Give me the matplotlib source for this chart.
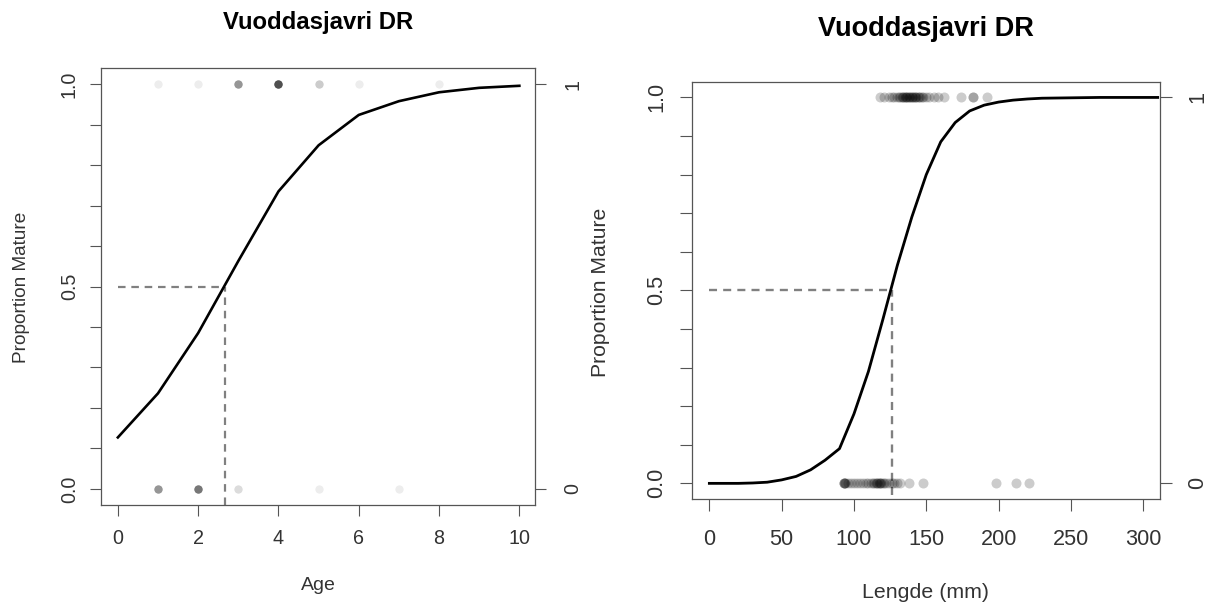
import matplotlib
matplotlib.use("Agg")
import matplotlib.pyplot as plt
import numpy as np

plt.rcParams['font.family'] = ['Liberation Sans', 'DejaVu Sans']

W, H = 1212, 611
title_text = "Vuoddasjavri DR"
ylabel_text = "Proportion Mature"

# ---------------- Left panel: Age ----------------
age_curve_x = [0, 1, 2, 3, 4, 5, 6, 7, 8, 9, 10]
age_curve_p = [0.127, 0.236, 0.385, 0.563, 0.735, 0.849, 0.924, 0.958, 0.980, 0.991, 0.996]
age_a50 = 2.68
age_mature_x = [1, 2, 3, 4, 5, 6, 8]
age_mature_n = [1, 1, 7, 15, 3, 1, 1]
age_immature_x = [1, 2, 3, 5, 7]
age_immature_n = [7, 10, 2, 1, 1]
age_xticks = [0, 2, 4, 6, 8, 10]
age_xlabel = "Age"

# ---------------- Right panel: Length ----------------
len_curve_x = [0, 10, 20, 30, 40, 50, 60, 70, 80, 90, 100, 110, 120, 130, 140,
               150, 160, 170, 180, 190, 200, 210, 220, 230, 250, 270, 310]
len_curve_p = [0.000, 0.000, 0.000, 0.001, 0.003, 0.009, 0.018, 0.035, 0.060, 0.090,
               0.180, 0.290, 0.425, 0.565, 0.690, 0.800, 0.885, 0.935, 0.965, 0.980,
               0.988, 0.993, 0.996, 0.998, 0.999, 1.000, 1.000]
len_a50 = 126.5
len_mature = [118, 121, 124, 126, 128, 130, 131, 132, 133, 134, 134, 135, 136, 136,
              137, 138, 138, 139, 140, 140, 141, 142, 142, 143, 144, 145, 146, 147,
              148, 150, 152, 155, 158, 162, 174, 182, 182, 192]
len_immature = [93, 93, 93, 94, 94, 96, 98, 100, 102, 104, 106, 108, 110, 112, 113,
                114, 115, 116, 116, 117, 118, 118, 119, 120, 121, 122, 124, 126, 128,
                130, 132, 138, 148, 198, 212, 221]
len_xticks = [0, 50, 100, 150, 200, 250, 300]
len_xlabel = "Lengde (mm)"

yticks = [0.0, 0.1, 0.2, 0.3, 0.4, 0.5, 0.6, 0.7, 0.8, 0.9, 1.0]
ytick_labels = ["0.0", "", "", "", "", "0.5", "", "", "", "", "1.0"]

fig = plt.figure(figsize=(W / 100, H / 100), dpi=100)


def px_axes(l, t, r, b):
    return fig.add_axes([l / W, 1 - b / H, (r - l) / W, (b - t) / H])


def style_panel(ax, xlim, ylim, xticks, fs, tlen, xpad, ypad, rpad):
    ax.set_xlim(*xlim)
    ax.set_ylim(*ylim)
    for s in ax.spines.values():
        s.set_color('#555555')
        s.set_linewidth(0.9)
    ax.set_xticks(xticks)
    ax.set_xticklabels([str(v) for v in xticks])
    ax.set_yticks(yticks)
    ax.set_yticklabels(ytick_labels, rotation=90, va='center')
    ax.tick_params(axis='x', length=tlen, width=0.8, color='#555555', labelsize=fs,
                   labelcolor='#333333', pad=xpad)
    ax.tick_params(axis='y', length=tlen, width=0.8, color='#555555', labelsize=fs,
                   labelcolor='#333333', pad=ypad)
    ax2 = ax.twinx()
    ax2.set_ylim(*ylim)
    ax2.set_yticks([0, 1])
    ax2.set_yticklabels(["0", "1"], rotation=90, va='center')
    ax2.tick_params(axis='y', length=tlen, width=0.8, color='#555555', labelsize=fs,
                    labelcolor='#333333', pad=rpad)
    for s in ax2.spines.values():
        s.set_visible(False)
    return ax2


# ---- Left panel ----
axL = px_axes(100.6, 68, 535.4, 505)
ylimL = (-0.04, 1.04)
style_panel(axL, (-0.43, 10.40), ylimL, age_xticks, 14.2, 7.7, 9.3, 8.0, 12.6)
axL.plot(age_curve_x, age_curve_p, color='black', lw=1.9, zorder=3)
axL.plot([0, age_a50], [0.5, 0.5], color='#808080', lw=1.6, dashes=(3.4, 2.6), zorder=2)
axL.plot([age_a50, age_a50], [ylimL[0], 0.5], color='#808080', lw=1.6, dashes=(3.4, 2.6), zorder=2)
mx = np.repeat(age_mature_x, age_mature_n)
ix = np.repeat(age_immature_x, age_immature_n)
axL.scatter(mx, np.ones(len(mx)), s=36, color='black', alpha=0.07, linewidths=0, zorder=4)
axL.scatter(ix, np.zeros(len(ix)), s=36, color='black', alpha=0.07, linewidths=0, zorder=4)

fig.text(318 / W, 1 - 23 / H, title_text, ha='center', va='center', fontsize=17.2,
         fontweight='bold', color='black')
fig.text(318 / W, 1 - 585.5 / H, age_xlabel, ha='center', va='center', fontsize=14.0,
         color='#333333')
fig.text(21 / W, 1 - 287 / H, ylabel_text, ha='center', va='center', rotation=90,
         fontsize=13.7, color='#333333')

# ---- Right panel ----
axR = px_axes(691.7, 82, 1159.7, 498.8)
ylimR = (-0.04, 1.04)
style_panel(axR, (-12.2, 311.4), ylimR, len_xticks, 15.6, 8.6, 13.5, 9.2, 11.4)
axR.plot(len_curve_x, len_curve_p, color='black', lw=2.0, zorder=3)
axR.plot([0, len_a50], [0.5, 0.5], color='#808080', lw=1.7, dashes=(3.4, 2.6), zorder=2)
axR.plot([len_a50, len_a50], [-0.03, 0.5], color='#808080', lw=1.7, dashes=(3.4, 2.6), zorder=2)
axR.scatter(len_mature, np.ones(len(len_mature)), s=52, color='black', alpha=0.2,
            linewidths=0, zorder=4)
axR.scatter(len_immature, np.zeros(len(len_immature)), s=52, color='black', alpha=0.2,
            linewidths=0, zorder=4)

fig.text(925.7 / W, 1 - 29 / H, title_text, ha='center', va='center', fontsize=19.5,
         fontweight='bold', color='black')
fig.text(925.7 / W, 1 - 593 / H, len_xlabel, ha='center', va='center', fontsize=15.4,
         color='#333333')
fig.text(601 / W, 1 - 292 / H, ylabel_text, ha='center', va='center', rotation=90,
         fontsize=15.2, color='#333333')

fig.savefig("out.png", dpi=100)
